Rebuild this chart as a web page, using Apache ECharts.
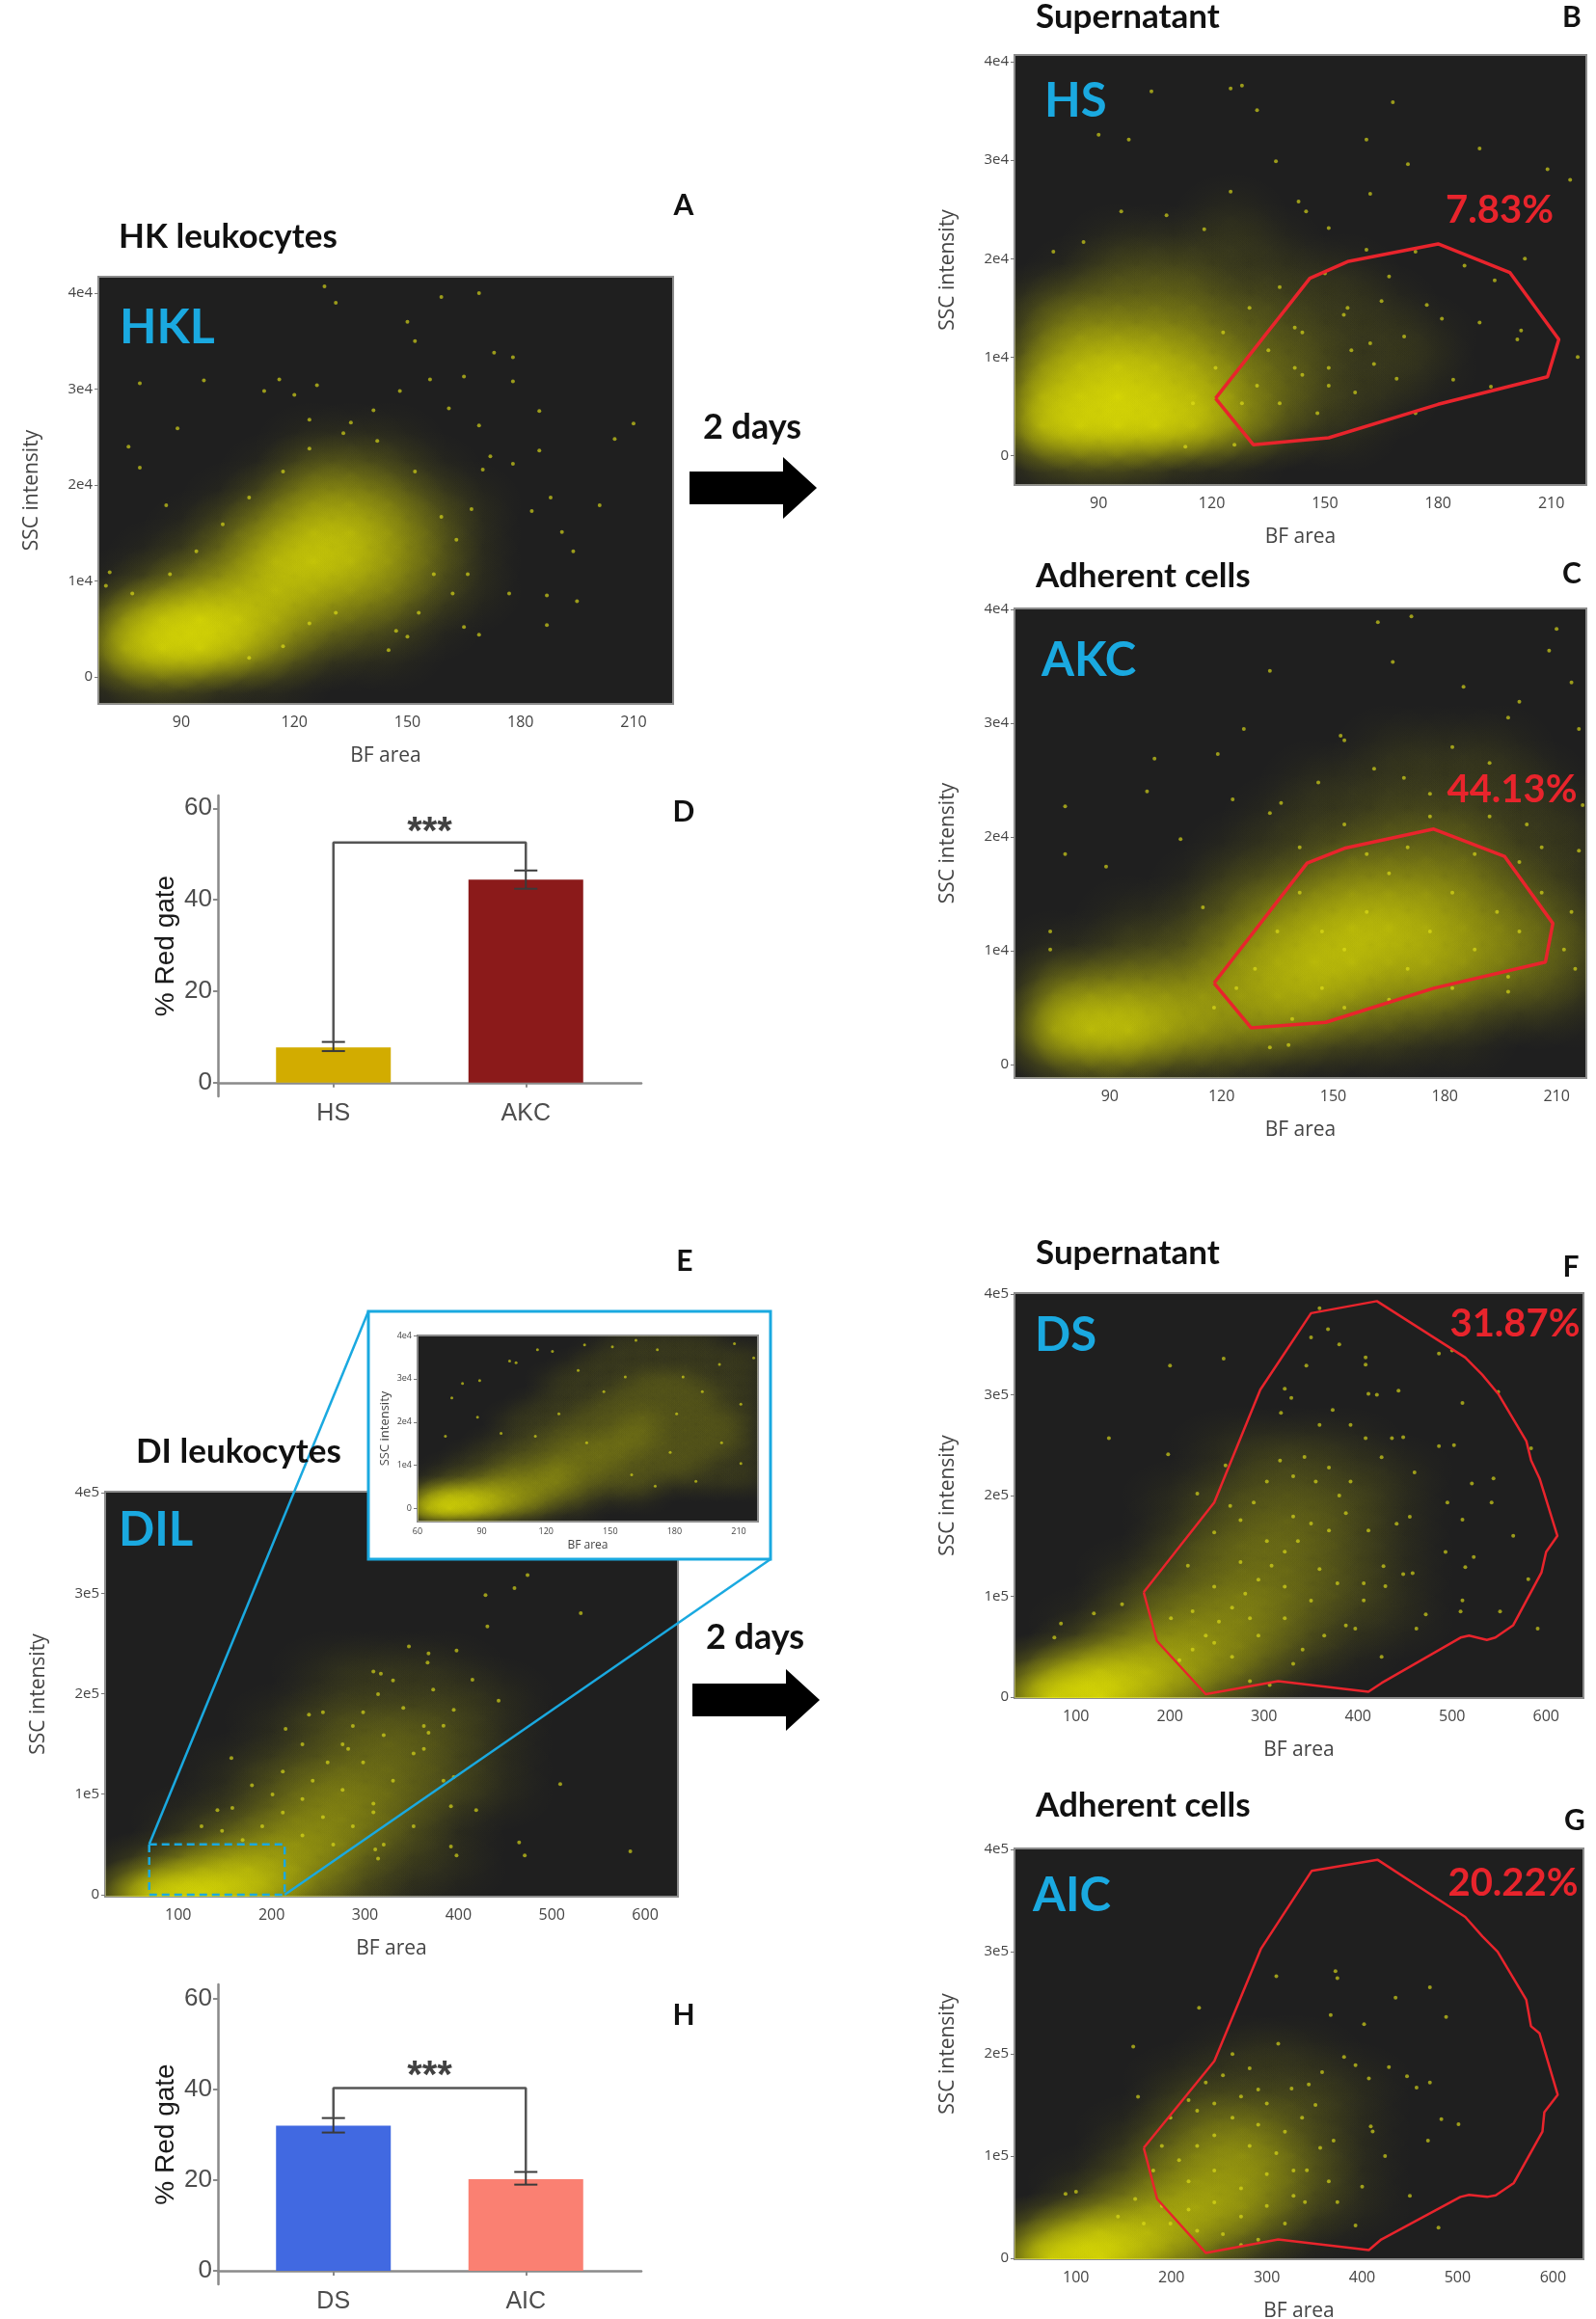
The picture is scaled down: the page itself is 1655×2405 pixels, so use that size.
<!DOCTYPE html>
<html>
<head>
<meta charset="utf-8">
<title>Leukocyte gating panels</title>
<script src="https://cdn.jsdelivr.net/npm/echarts@6/dist/echarts.min.js"></script>
<style>
  html, body { margin: 0; padding: 0; background: #fff; }
  #main { width: 1655px; height: 2405px; }
</style>
</head>
<body>
<div id="main"></div>
<script>
// ---------- data ----------
var hkTicksX = [90, 120, 150, 180, 210];
var hkTicksY = [0, 10000, 20000, 30000, 40000];
var insetTicksX = [60, 90, 120, 150, 180, 210];
var diTicksX = [100, 200, 300, 400, 500, 600];
var diTicksY = [0, 100000, 200000, 300000, 400000];

// density grids: rows = y values, columns = x values (relative dot density 0-10)
var hkGridX = [75, 85, 95, 105, 115, 125, 135, 145, 155, 165, 175, 185, 195, 205, 215];
var hkGridY = [0, 3000, 6000, 9000, 12000, 15000, 18000, 21000, 24000, 27000];

var hklDensity = [
  [2, 3, 2, 1, 1, 0, 0, 0, 0, 0, 0, 0, 0, 0, 0],
  [7, 9, 9, 7, 4, 2, 1, 1, 0, 0, 0, 0, 0, 0, 0],
  [5, 8, 9, 8, 6, 4, 3, 2, 1, 0, 0, 0, 0, 0, 0],
  [1, 3, 5, 6, 7, 6, 5, 4, 2, 1, 0, 0, 0, 0, 0],
  [0, 1, 2, 4, 7, 8, 7, 5, 3, 1, 0, 0, 0, 0, 0],
  [0, 0, 1, 3, 5, 7, 7, 5, 3, 1, 0, 0, 0, 0, 0],
  [0, 0, 0, 1, 3, 5, 5, 4, 2, 1, 0, 0, 0, 0, 0],
  [0, 0, 0, 0, 1, 3, 3, 2, 1, 0, 0, 0, 0, 0, 0],
  [0, 0, 0, 0, 0, 1, 1, 1, 0, 0, 0, 0, 0, 0, 0],
  [0, 0, 0, 0, 0, 0, 0, 0, 0, 0, 0, 0, 0, 0, 0]
];
var hklDots = [[128,40700],[159,39600],[131,39000],[169,40000],[150,37000],[152,35000],[173,33800],[178,33300],
  [96,30900],[79,30600],[126,30400],[156,31000],[165,31300],[178,30800],[185,27700],[210,26400],[205,24800],
  [185,23600],[188,18700],[201,17900],[183,17300],[191,15100],[194,13100],[177,8700],[187,8500],[195,7900],
  [187,5400],[76,24000],[89,25900],[79,21800],[86,17900],[116,31000],[112,29800],[120,29400],[148,29800],
  [161,28000],[169,26200],[172,23000],[170,21600],[178,22200],[165,5200],[169,4400],[145,2800],[150,4200],
  [70,9500],[71,10900],[124,26800],[141,27800],[135,26500],
  [159,16700],[163,14300],[157,10700],[162,8700],[153,6700],[147,4800],[142,24600],[133,25400],[124,23800],
  [117,21400],[108,18700],[101,15900],[94,13100],[87,10700],[77,8700],[166,10700],[167,17500],[152,21400],
  [124,5600],[131,6700],[117,3200],[108,2000]];

var hsDensity = [
  [2, 3, 3, 2, 1, 1, 0, 0, 0, 0, 0, 0, 0, 0, 0],
  [8, 9, 9, 9, 8, 5, 3, 1, 1, 0, 0, 0, 0, 0, 0],
  [7, 8, 9, 8, 7, 5, 3, 2, 1, 1, 0, 0, 0, 0, 0],
  [5, 7, 8, 7, 6, 4, 3, 2, 1, 1, 1, 0, 0, 0, 0],
  [3, 5, 5, 5, 4, 3, 2, 2, 1, 1, 1, 0, 0, 0, 0],
  [2, 3, 3, 3, 3, 2, 2, 1, 1, 1, 0, 0, 0, 0, 0],
  [0, 1, 2, 2, 2, 1, 1, 1, 1, 0, 0, 0, 0, 0, 0],
  [0, 0, 1, 1, 1, 1, 1, 0, 0, 0, 0, 0, 0, 0, 0],
  [0, 0, 0, 0, 0, 1, 0, 0, 0, 0, 0, 0, 0, 0, 0],
  [0, 0, 0, 0, 0, 0, 0, 0, 0, 0, 0, 0, 0, 0, 0]
];
var hsDots = [[128,37600],[125,37300],[104,37000],[168,35900],[132,35100],[90,32600],[98,32100],[161,32100],
  [191,31200],[137,29900],[172,29600],[209,29100],[215,28000],[125,26800],[143,25800],[145,24800],[151,23100],
  [162,26600],[161,20900],[174,20700],[187,19300],[167,18200],[195,17800],[203,20000],[177,15300],[181,13900],
  [191,13500],[201,11800],[202,12700],[217,10000],[184,7700],[194,7000],[157,10700],[151,7100],[163,9300],
  [171,12100],[156,15000],[142,13000],[144,8200],[174,4300],[86,21700],[78,20700],[96,24800],[118,23000],
  [108,24400],[126,1100],[113,900],
  [128,5300],[132,7100],[135,10700],[138,5300],[142,8900],[144,12500],[148,4300],[151,8900],[155,14300],
  [158,6400],[162,11400],[165,15700],[169,7800],[121,8900],[115,5300],[123,12500],[130,15000],[138,17100],
  [150,18500]];
var hsGate = [[121,5800],[146,18000],[156,19700],[180,21500],[199,18600],[212,11800],[209,8000],[180,5200],
  [151,1800],[131,1100],[121,5800]];

var akcDensity = [
  [1, 2, 2, 1, 1, 1, 0, 0, 0, 0, 0, 0, 0, 0, 0],
  [7, 8, 8, 6, 5, 4, 4, 3, 2, 2, 1, 1, 0, 0, 0],
  [4, 5, 5, 5, 5, 5, 6, 6, 5, 4, 4, 3, 2, 2, 1],
  [1, 1, 2, 2, 3, 5, 6, 7, 7, 6, 6, 5, 4, 3, 2],
  [0, 0, 1, 1, 2, 3, 5, 6, 7, 7, 6, 5, 4, 3, 2],
  [0, 0, 0, 0, 1, 2, 3, 4, 5, 5, 5, 4, 3, 2, 1],
  [0, 0, 0, 0, 0, 1, 1, 2, 3, 3, 3, 3, 2, 1, 1],
  [0, 0, 0, 0, 0, 0, 1, 1, 1, 2, 2, 2, 1, 1, 1],
  [0, 0, 0, 0, 0, 0, 0, 1, 1, 1, 1, 1, 1, 1, 0],
  [0, 0, 0, 0, 0, 0, 0, 0, 0, 1, 1, 1, 1, 0, 0]
];
var akcDots = [[171,39400],[162,38900],[210,38300],[208,36400],[214,33600],[133,34600],[166,35400],[185,33200],
  [200,31900],[153,28500],[152,28900],[161,26000],[126,29500],[119,27300],[102,26900],[78,22700],[100,24000],
  [123,23300],[133,22100],[136,23000],[182,27900],[192,26500],[197,30500],[216,29500],[217,22800],[202,21100],
  [109,19800],[78,18500],[89,17400],[216,18800],[215,8400],[197,6400],[133,1500],[138,1700],[74,11700],
  [74,10100],[115,13800],[176,23800],[146,24800],[169,25200],
  [129,8400],[135,11700],[141,15100],[147,6700],[153,10100],[159,13400],[165,16800],[170,8400],[176,11700],
  [182,15100],[188,10100],[194,13400],[200,11700],[206,15100],[212,10100],[214,13400],[165,5700],[147,11700],
  [159,18500],[170,19100],[188,18500],[200,17800],[206,19100],[139,4000],[153,5000],[124,6700],[118,5000],
  [182,6700],[197,7700],[176,21800],[153,21100],[141,19100],[192,21800]];
var akcGate = [[118,7150],[143,17700],[153,19000],[177,20700],[196,18300],[209,12400],[207,9000],[177,6700],
  [148,3700],[128,3200],[118,7150]];

var insetGridX = [65, 75, 85, 95, 105, 115, 125, 135, 145, 155, 165, 175, 185, 195, 205, 215];
var insetGridY = [0, 3000, 6000, 9000, 12000, 15000, 18000, 21000, 24000, 27000, 30000, 33000, 36000, 39000];
var insetDensity = [
  [8, 9, 8, 6, 4, 3, 1, 1, 0, 0, 0, 0, 0, 0, 0, 0],
  [5, 7, 7, 6, 5, 4, 3, 2, 1, 1, 1, 0, 0, 0, 0, 0],
  [1, 2, 3, 4, 4, 4, 4, 3, 2, 2, 2, 1, 1, 1, 1, 1],
  [0, 1, 1, 2, 3, 3, 4, 3, 3, 2, 2, 2, 2, 1, 1, 1],
  [0, 0, 1, 1, 2, 2, 3, 3, 3, 3, 2, 2, 2, 2, 1, 1],
  [0, 0, 0, 1, 1, 2, 2, 3, 3, 3, 3, 2, 2, 2, 2, 1],
  [0, 0, 0, 0, 1, 1, 2, 2, 2, 3, 3, 2, 2, 2, 2, 1],
  [0, 0, 0, 0, 1, 1, 1, 2, 2, 2, 3, 2, 2, 2, 2, 1],
  [0, 0, 0, 0, 0, 1, 1, 1, 2, 2, 2, 2, 2, 2, 1, 1],
  [0, 0, 0, 0, 0, 0, 1, 1, 1, 2, 2, 2, 2, 2, 1, 1],
  [0, 0, 0, 0, 0, 0, 1, 1, 1, 1, 2, 2, 2, 1, 1, 1],
  [0, 0, 0, 0, 0, 0, 0, 1, 1, 1, 1, 1, 1, 1, 1, 1],
  [0, 0, 0, 0, 0, 0, 0, 0, 1, 1, 1, 1, 1, 1, 1, 1],
  [0, 0, 0, 0, 0, 0, 0, 0, 0, 1, 1, 1, 1, 1, 0, 0]
];
var insetDots = [[184,30400],[116,36700],[123,36300],[106,33700],[103,34100],[81,28900],[89,29600],[76,25600],
  [73,16700],[138,37800],[151,37400],[162,38900],[172,36700],[208,38100],[217,34800],[201,33300],[193,27000],
  [211,24100],[181,21900],[202,15200],[211,10400],[178,13000],[190,6300],[171,5200],[160,7800],[139,15200],
  [126,21900],[115,16700],[99,17400],[88,21100],[147,27000],[157,30400],[135,31900]];

var diGridX = [75, 125, 175, 225, 275, 325, 375, 425, 475];
var diGridY = [0, 25000, 50000, 75000, 100000, 125000, 150000, 175000, 200000, 225000, 250000];

var dilDensity = [
  [10, 10, 8, 4, 2, 1, 0, 0, 0],
  [3, 6, 7, 5, 3, 1, 1, 0, 0],
  [0, 2, 4, 5, 4, 2, 1, 0, 0],
  [0, 1, 2, 4, 4, 3, 1, 0, 0],
  [0, 0, 1, 3, 4, 3, 2, 1, 0],
  [0, 0, 1, 2, 3, 3, 2, 1, 0],
  [0, 0, 0, 1, 2, 3, 2, 1, 0],
  [0, 0, 0, 1, 2, 2, 2, 1, 0],
  [0, 0, 0, 0, 1, 1, 1, 1, 0],
  [0, 0, 0, 0, 1, 1, 1, 0, 0],
  [0, 0, 0, 0, 0, 0, 0, 0, 0]
];
var dilDots = [[474,318000],[429,298000],[460,305000],[531,280000],[431,267000],[415,214000],[398,243000],
  [368,240000],[367,231000],[443,193000],[395,184000],[240,179000],[215,165000],[157,136000],[395,117000],
  [509,110000],[419,84000],[465,52000],[471,39000],[584,43000],[392,48000],[398,39000],[311,45000],[314,36000],
  [392,88000],[317,220000],[347,247000],[309,222000],[363,145000],[368,161000],[384,168000],[142,84000],
  [125,68000],[282,145000],[309,82000],
  [169,54400],[190,68000],[212,81600],[201,99800],[233,95200],[244,113400],[260,131500],[276,149700],
  [287,167800],[298,181400],[314,199500],[330,213200],[341,185900],[320,158700],[298,131500],[276,104300],
  [255,77100],[233,59000],[363,167800],[352,140600],[330,113400],[309,90700],[373,204100],[287,68000],
  [266,49900],[320,49900],[352,68000],[384,113400],[255,181400],[233,149700],[212,122400],[179,108800],
  [158,86200],[147,63500]];
var dilZoomBox = [[69,50000],[214,50000],[214,0],[69,0],[69,50000]];

var dsDensity = [
  [10, 10, 6, 3, 1, 0, 0, 0, 0],
  [5, 8, 7, 5, 3, 1, 0, 0, 0],
  [0, 3, 5, 5, 4, 2, 1, 0, 0],
  [0, 1, 3, 4, 4, 3, 1, 1, 0],
  [0, 0, 2, 3, 4, 3, 2, 1, 0],
  [0, 0, 1, 2, 3, 3, 2, 1, 0],
  [0, 0, 0, 2, 3, 3, 2, 1, 0],
  [0, 0, 0, 1, 2, 3, 2, 1, 0],
  [0, 0, 0, 1, 2, 2, 2, 1, 0],
  [0, 0, 0, 0, 1, 2, 1, 1, 0],
  [0, 0, 0, 0, 1, 1, 1, 0, 0]
];
var dsDots = [[359,386000],[368,365000],[350,357000],[380,350000],[486,341000],[500,344000],[257,336000],
  [200,329000],[345,329000],[408,337000],[408,330000],[443,304000],[411,301000],[420,300000],[549,303000],
  [511,292000],[322,306000],[329,297000],[373,285000],[318,282000],[359,270000],[392,270000],[408,257000],
  [448,258000],[436,257000],[135,257000],[198,241000],[486,249000],[502,250000],[584,247000],[259,230000],
  [425,238000],[460,223000],[521,212000],[544,217000],[542,193000],[495,193000],[455,179000],[441,172000],
  [511,176000],[565,160000],[493,144000],[523,139000],[448,122000],[458,123000],[514,129000],[511,96000],
  [509,85000],[551,85000],[472,82000],[462,68000],[591,68000],[581,117000],[427,130000],[429,110000],
  [406,96000],[387,71000],[425,40000],[229,202000],[149,92000],[119,83000],[77,59000],[84,73000],[306,12000],
  [247,163500],[264,189600],[275,175700],[289,193000],[303,213900],[317,234800],[331,219100],[343,238300],
  [355,213900],[369,227800],[380,200000],[392,213900],[387,182600],[369,165200],[350,172200],[336,154800],
  [322,144300],[308,130400],[294,116500],[280,102600],[266,88700],[252,74800],[238,60900],[224,47000],
  [210,36500],[224,85200],[247,109600],[275,133900],[303,154800],[331,179100],[411,165200],[378,113000],
  [350,95700],[322,78300],[294,60900],[266,40000],[331,33000],[364,60900],[397,67800],[285,15700],
  [219,130400],[201,78300],[341,47000],[406,113000],[359,127000],[322,109600],[285,78300],[247,53900]];
var dsGate = [[172,104000],[247,193000],[296,305000],[350,381000],[420,393000],[514,337000],[532,320000],
  [549,301000],[579,254000],[584,235000],[593,217000],[612,160000],[600,144000],[595,123500],[565,71300],
  [546,59000],[537,56700],[518,61000],[509,59000],[425,13900],[411,5200],[315,15700],[238,2800],[186,55700],
  [172,104000]];

var aicDensity = [
  [10, 10, 6, 3, 1, 0, 0, 0, 0],
  [5, 8, 7, 5, 3, 1, 0, 0, 0],
  [0, 3, 5, 6, 5, 2, 1, 0, 0],
  [0, 1, 3, 5, 5, 3, 1, 0, 0],
  [0, 0, 2, 4, 5, 3, 1, 0, 0],
  [0, 0, 1, 3, 4, 2, 1, 0, 0],
  [0, 0, 0, 2, 2, 2, 1, 0, 0],
  [0, 0, 0, 1, 1, 1, 1, 0, 0],
  [0, 0, 0, 0, 1, 1, 0, 0, 0],
  [0, 0, 0, 0, 0, 0, 0, 0, 0],
  [0, 0, 0, 0, 0, 0, 0, 0, 0]
];
var aicDots = [[310,276000],[372,281000],[374,274000],[471,265000],[229,245000],[435,255000],[367,238000],
  [488,236000],[402,229000],[160,207000],[312,210000],[381,197000],[393,189000],[428,187000],[358,182000],
  [344,170000],[457,167000],[471,172000],[447,178000],[407,176000],[326,166000],[165,158000],[483,136000],
  [501,131000],[409,129000],[411,124000],[424,100000],[469,115000],[370,115000],[400,70000],[450,61000],
  [374,55000],[393,32000],[480,30000],[340,55000],[342,86000],[356,108000],[100,65000],[89,63000],
  [351,150000],[328,61000],[273,13000],[291,18000],
  [199,137500],[218,154800],[236,172000],[245,120200],[264,137500],[273,158200],[282,109800],[291,130600],
  [300,151300],[310,102900],[319,123700],[208,96000],[227,109800],[181,85700],[190,109800],[218,75300],
  [245,85700],[273,68400],[300,82200],[245,54600],[218,47700],[190,51100],[273,40800],[300,51100],
  [337,137500],[328,85700],[254,178900],[282,185800],[264,199700],[227,144400],[199,33900],[162,58000],
  [171,33900],[144,40800],[227,26900],[254,23500],[319,33900],[365,75300],[291,165100],[245,151300]];
var aicGate = [[171,108000],[245,193000],[294,303000],[347,379000],[416,390000],[508,334000],[526,315000],
  [542,300000],[572,253000],[577,227000],[586,220000],[605,160000],[591,143000],[589,124000],[559,73600],
  [540,61500],[531,60000],[512,62000],[503,60000],[420,18300],[407,8000],[312,18300],[236,5200],[185,58000],
  [171,108000]];

// bar panels
var dCats = ['HS', 'AKC'];
var dMeans = [7.7, 44.4];
var dErrLow = [6.9, 42.4];
var dErrHigh = [8.9, 46.4];
var dBracket = [[1, 8.9], [1, 52.5], [2, 52.5], [2, 46.4]];
var hCats = ['DS', 'AIC'];
var hMeans = [32.0, 20.2];
var hErrLow = [30.5, 19.0];
var hErrHigh = [33.7, 21.8];
var hBracket = [[1, 33.7], [1, 40.3], [2, 40.3], [2, 21.8]];
var barTicksY = [0, 20, 40, 60];

// ---------- helpers ----------
var CYAN = '#1aa9e0';
var RED = '#e8242c';
var AXIS_FONT = '"Open Sans", "DejaVu Sans", sans-serif';
var TITLE_FONT = 'Lato, "Open Sans", sans-serif';

function gridData(xs, ys, dens) {
    var out = [];
    for (var i = 0; i < ys.length; i++) {
        for (var j = 0; j < xs.length; j++) {
            if (dens[i][j] > 0) out.push([xs[j], ys[i], dens[i][j]]);
        }
    }
    return out;
}

// soft glow per density cell, clipped to the plot
function blobSeries(idx, xs, ys, dens, dx, dy, z) {
    return {
        type: 'custom',
        xAxisIndex: idx, yAxisIndex: idx,
        clip: true, silent: true, z: z || 2,
        encode: {x: 0, y: 1},
        data: gridData(xs, ys, dens),
        renderItem: function (params, api) {
            var c = api.coord([api.value(0), api.value(1)]);
            var s = api.size([dx, dy]);
            var rx = s[0] * 1.6, ry = s[1] * 1.6;
            var a = Math.min(0.9, 0.72 * Math.pow(api.value(2) / 10, 1.2));
            return {
                type: 'circle',
                x: c[0], y: c[1], scaleX: rx / ry,
                shape: {cx: 0, cy: 0, r: ry},
                style: {
                    fill: new echarts.graphic.RadialGradient(0.5, 0.5, 0.5, [
                        {offset: 0, color: 'rgba(240,240,0,' + a + ')'},
                        {offset: 0.35, color: 'rgba(240,240,0,' + (a * 0.7) + ')'},
                        {offset: 0.7, color: 'rgba(240,240,0,' + (a * 0.22) + ')'},
                        {offset: 1, color: 'rgba(240,240,0,0)'}
                    ])
                }
            };
        }
    };
}

function dotSeries(idx, data, size, z) {
    return {
        type: 'scatter', xAxisIndex: idx, yAxisIndex: idx, silent: true, z: z || 3,
        data: data, symbolSize: size,
        itemStyle: {color: 'rgba(225,225,25,0.8)'}
    };
}

function gateSeries(idx, data, width) {
    return {
        type: 'line', xAxisIndex: idx, yAxisIndex: idx, silent: true, z: 4,
        data: data, symbol: 'none', smooth: false,
        lineStyle: {color: RED, width: width}
    };
}

function expFmt(p, e) {
    return function (v) { return v === 0 ? '0' : Math.round(v / p) + e; };
}

function flowX(idx, min, max, ticks, fs, name, gap, z) {
    return {
        type: 'value', gridIndex: idx, min: min, max: max, z: z || 0,
        name: name, nameLocation: 'middle', nameGap: gap,
        nameTextStyle: {color: '#444', fontSize: Math.round(fs * 1.3), fontFamily: AXIS_FONT},
        axisLine: {show: false}, splitLine: {show: false},
        axisTick: {show: false},
        axisLabel: {customValues: ticks, color: '#444', fontSize: fs, fontFamily: AXIS_FONT, margin: fs * 0.7}
    };
}

function flowY(idx, min, max, ticks, fmt, fs, name, gap, z) {
    return {
        type: 'value', gridIndex: idx, min: min, max: max, z: z || 0,
        name: name, nameLocation: 'middle', nameGap: gap,
        nameTextStyle: {color: '#444', fontSize: Math.round(fs * 1.4), fontFamily: AXIS_FONT},
        axisLine: {show: false}, splitLine: {show: false},
        axisTick: {show: true, customValues: ticks, length: 4, lineStyle: {color: '#777'}},
        axisLabel: {customValues: ticks, formatter: fmt, color: '#444', fontSize: fs, fontFamily: AXIS_FONT, margin: 6}
    };
}

function flowGrid(left, top, width, height, z) {
    return {
        left: left, top: top, width: width, height: height, z: z || 0,
        show: true, backgroundColor: '#1f1f1f', borderColor: '#8c8c8c', borderWidth: 2,
        outerBoundsMode: 'none', containLabel: false
    };
}

function barGrid(left, top, width, height) {
    return {left: left, top: top, width: width, height: height, show: false,
            outerBoundsMode: 'none', containLabel: false};
}

function barX(idx, cats) {
    return {
        type: 'value', gridIndex: idx, min: 0.4, max: 2.6,
        axisLine: {show: true, lineStyle: {color: '#8a8a8a', width: 2.5}},
        splitLine: {show: false},
        axisTick: {show: true, customValues: [1, 2], length: 5, lineStyle: {color: '#8a8a8a', width: 2}},
        axisLabel: {customValues: [1, 2], formatter: function (v) { return cats[Math.round(v) - 1]; },
                    color: '#4d4d4d', fontSize: 25, fontFamily: '"Liberation Sans", Arial, sans-serif', margin: 6}
    };
}

function barY(idx, max) {
    return {
        type: 'value', gridIndex: idx, min: -3, max: max,
        name: '% Red gate', nameLocation: 'middle', nameGap: 40,
        nameTextStyle: {color: '#1a1a1a', fontSize: 28, fontFamily: '"Liberation Sans", Arial, sans-serif'},
        axisLine: {show: true, lineStyle: {color: '#8a8a8a', width: 2.5}},
        splitLine: {show: false},
        axisTick: {show: true, customValues: barTicksY, length: 5, lineStyle: {color: '#8a8a8a', width: 2}},
        axisLabel: {customValues: barTicksY, color: '#4d4d4d', fontSize: 26,
                    fontFamily: '"Liberation Sans", Arial, sans-serif', margin: 6}
    };
}

function barSeries(idx, means, colors) {
    return {
        type: 'bar', xAxisIndex: idx, yAxisIndex: idx, silent: true, barWidth: 119,
        data: means.map(function (m, i) {
            return {value: [i + 1, m], itemStyle: {color: colors[i]}};
        })
    };
}

function errSeries(idx, lows, highs) {
    return {
        type: 'custom', xAxisIndex: idx, yAxisIndex: idx, silent: true, z: 5,
        encode: {x: 0, y: [1, 2]},
        data: lows.map(function (l, i) { return [i + 1, l, highs[i]]; }),
        renderItem: function (params, api) {
            var top = api.coord([api.value(0), api.value(2)]);
            var bot = api.coord([api.value(0), api.value(1)]);
            var st = {stroke: '#3a3a3a', lineWidth: 2};
            return {type: 'group', children: [
                {type: 'line', shape: {x1: top[0], y1: top[1], x2: bot[0], y2: bot[1]}, style: st},
                {type: 'line', shape: {x1: top[0] - 12, y1: top[1], x2: top[0] + 12, y2: top[1]}, style: st},
                {type: 'line', shape: {x1: bot[0] - 12, y1: bot[1], x2: bot[0] + 12, y2: bot[1]}, style: st}
            ]};
        }
    };
}

function bracketSeries(idx, data) {
    return {
        type: 'line', xAxisIndex: idx, yAxisIndex: idx, silent: true, z: 6,
        data: data, symbol: 'none', lineStyle: {color: '#555', width: 2.5}
    };
}

function starSeries(idx, y) {
    return {
        type: 'scatter', xAxisIndex: idx, yAxisIndex: idx, silent: true, z: 6,
        data: [[1.5, y]], symbolSize: 1, itemStyle: {color: 'rgba(0,0,0,0)'},
        label: {show: true, position: 'inside', formatter: '***', color: '#111',
                fontSize: 40, fontWeight: 'bold', fontFamily: '"Liberation Sans", Arial, sans-serif'}
    };
}

// ---------- chart ----------
var chart = echarts.init(document.getElementById('main'), null, {renderer: 'canvas'});
var e4 = expFmt(10000, 'e4');
var e5 = expFmt(100000, 'e5');

var option = {
    backgroundColor: '#ffffff',
    animation: false,
    grid: [
        flowGrid(102, 287, 596, 443),          // 0 A
        flowGrid(1052, 57, 593, 446),          // 1 B
        flowGrid(1052, 631, 593, 487),         // 2 C
        barGrid(226, 825, 439, 312),           // 3 D
        flowGrid(109, 1547, 594, 420),         // 4 E
        flowGrid(433, 1385, 353, 193, 20),     // 5 inset
        flowGrid(1052, 1341, 590, 420),        // 6 F
        flowGrid(1052, 1917, 590, 426),        // 7 G
        barGrid(226, 2058, 439, 311)           // 8 H
    ],
    xAxis: [
        flowX(0, 68, 220.5, hkTicksX, 16, 'BF area', 44),
        flowX(1, 67.7, 219.3, hkTicksX, 16, 'BF area', 44),
        flowX(2, 64.4, 218, hkTicksX, 16, 'BF area', 44),
        barX(3, dCats),
        flowX(4, 21.8, 635, diTicksX, 16, 'BF area', 44),
        flowX(5, 60, 219, insetTicksX, 9, 'BF area', 19, 22),
        flowX(6, 34.6, 639.7, diTicksX, 16, 'BF area', 44),
        flowX(7, 35.5, 632, diTicksX, 16, 'BF area', 44),
        barX(8, hCats)
    ],
    yAxis: [
        flowY(0, -2800, 41700, hkTicksY, e4, 15, 'SSC intensity', 58),
        flowY(1, -3000, 40700, hkTicksY, e4, 15, 'SSC intensity', 58),
        flowY(2, -1200, 40100, hkTicksY, e4, 15, 'SSC intensity', 58),
        barY(3, 62.8),
        flowY(4, -2000, 401000, diTicksY, e5, 15, 'SSC intensity', 58),
        flowY(5, -3000, 40000, hkTicksY, e4, 9, 'SSC intensity', 27, 22),
        flowY(6, -1000, 401000, diTicksY, e5, 15, 'SSC intensity', 58),
        flowY(7, -1000, 401000, diTicksY, e5, 15, 'SSC intensity', 58),
        barY(8, 63.2)
    ],
    series: [
        blobSeries(0, hkGridX, hkGridY, hklDensity, 10, 3000),
        dotSeries(0, hklDots, 4),

        blobSeries(1, hkGridX, hkGridY, hsDensity, 10, 3000),
        dotSeries(1, hsDots, 4),
        gateSeries(1, hsGate, 3.5),

        blobSeries(2, hkGridX, hkGridY, akcDensity, 10, 3000),
        dotSeries(2, akcDots, 4),
        gateSeries(2, akcGate, 3.5),

        barSeries(3, dMeans, ['#d2ac00', '#8b1a1a']),
        errSeries(3, dErrLow, dErrHigh),
        bracketSeries(3, dBracket),
        starSeries(3, 54.5),

        blobSeries(4, diGridX, diGridY, dilDensity, 50, 25000),
        dotSeries(4, dilDots, 4),
        {
            type: 'line', xAxisIndex: 4, yAxisIndex: 4, silent: true, z: 5,
            data: dilZoomBox, symbol: 'none',
            lineStyle: {color: CYAN, width: 2.5, type: [8, 5]}
        },

        blobSeries(5, insetGridX, insetGridY, insetDensity, 10, 3000, 21),
        dotSeries(5, insetDots, 3, 22),

        blobSeries(6, diGridX, diGridY, dsDensity, 50, 25000),
        dotSeries(6, dsDots, 4),
        gateSeries(6, dsGate, 2.5),

        blobSeries(7, diGridX, diGridY, aicDensity, 50, 25000),
        dotSeries(7, aicDots, 4),
        gateSeries(7, aicGate, 2.5),

        barSeries(8, hMeans, ['#4169e1', '#fa8072']),
        errSeries(8, hErrLow, hErrHigh),
        bracketSeries(8, hBracket),
        starSeries(8, 42.8)
    ]
};
chart.setOption(option);

// ---------- text, arrows, inset frame ----------
function txt(s, x, y, size, color, align, weight) {
    return {
        type: 'text', z: 30, silent: true,
        style: {text: s, x: x, y: y, fill: color || '#111',
                font: (weight || 'bold') + ' ' + size + 'px ' + TITLE_FONT,
                align: align || 'left', verticalAlign: 'middle'}
    };
}
function arrow(x0, yc) {
    return {
        type: 'polygon', z: 30, silent: true,
        shape: {points: [[x0, yc - 17], [x0 + 97, yc - 17], [x0 + 97, yc - 32], [x0 + 132, yc],
                         [x0 + 97, yc + 32], [x0 + 97, yc + 17], [x0, yc + 17]]},
        style: {fill: '#000'}
    };
}

var boxCorner = chart.convertToPixel({gridIndex: 4}, dilZoomBox[0]);
var boxCorner2 = chart.convertToPixel({gridIndex: 4}, dilZoomBox[2]);
var inset = {x: 382, y: 1360, w: 417, h: 257};

chart.setOption({
    graphic: [
        // connectors and inset frame
        {type: 'line', z: 14, silent: true,
         shape: {x1: boxCorner[0], y1: boxCorner[1], x2: inset.x, y2: inset.y},
         style: {stroke: CYAN, lineWidth: 2.5}},
        {type: 'line', z: 14, silent: true,
         shape: {x1: boxCorner2[0], y1: boxCorner2[1], x2: inset.x + inset.w, y2: inset.y + inset.h},
         style: {stroke: CYAN, lineWidth: 2.5}},
        {type: 'rect', z: 15, silent: true,
         shape: {x: inset.x, y: inset.y, width: inset.w, height: inset.h},
         style: {fill: '#fff', stroke: CYAN, lineWidth: 3}},

        txt('HK leukocytes', 123, 246, 35),
        txt('A', 709, 213, 30, '#111', 'center'),
        txt('Supernatant', 1074, 18, 35),
        txt('B', 1630, 18, 30, '#111', 'center'),
        txt('Adherent cells', 1074, 598, 35),
        txt('C', 1630, 595, 30, '#111', 'center'),
        txt('D', 709, 842, 30, '#111', 'center'),
        txt('E', 710, 1308, 30, '#111', 'center'),
        txt('DI leukocytes', 141, 1506, 35),
        txt('Supernatant', 1074, 1300, 35),
        txt('F', 1629, 1314, 30, '#111', 'center'),
        txt('Adherent cells', 1074, 1873, 35),
        txt('G', 1633, 1888, 30, '#111', 'center'),
        txt('H', 709, 2090, 30, '#111', 'center'),

        txt('2 days', 780, 443, 36, '#111', 'center'),
        arrow(715, 506),
        txt('2 days', 783, 1698, 36, '#111', 'center'),
        arrow(718, 1763),

        txt('HKL', 124, 340, 50, CYAN),
        txt('HS', 1083, 105, 49, CYAN),
        txt('AKC', 1080, 685, 49, CYAN),
        txt('DIL', 123, 1587, 49, CYAN),
        txt('DS', 1073, 1385, 49, CYAN),
        txt('AIC', 1071, 1966, 49, CYAN),

        txt('7.83%', 1555, 218, 40, RED, 'center'),
        txt('44.13%', 1568, 819, 40, RED, 'center'),
        txt('31.87%', 1571, 1373, 40, RED, 'center'),
        txt('20.22%', 1569, 1953, 40, RED, 'center')
    ]
});
</script>
</body>
</html>
